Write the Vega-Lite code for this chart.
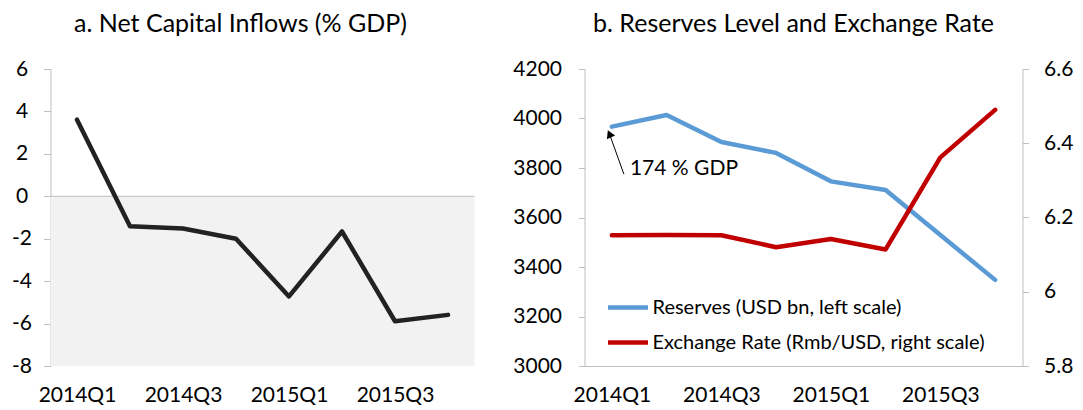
{
  "$schema": "https://vega.github.io/schema/vega-lite/v6.json",
  "padding": {"left": 11.5, "top": 11, "right": 5, "bottom": 0},
  "config": {
    "font": "Lato",
    "view": {"stroke": null},
    "axis": {"labelFont": "Lato", "labelFontSize": 21, "labelColor": "#000000", "domainColor": "#bfbfbf", "tickColor": "#bfbfbf", "grid": false},
    "title": {"font": "Lato", "fontSize": 25, "fontWeight": "normal", "color": "#000000", "frame": "group", "baseline": "alphabetic", "offset": 21.5},
    "concat": {"spacing": 37},
    "legend": {"labelFont": "Lato", "labelFontSize": 20, "labelColor": "#000000", "labelLimit": 0}
  },
  "datasets": {
    "capital": [
      {"q": "2014Q1", "t": 0, "v": 3.61},
      {"q": "2014Q2", "t": 1, "v": -1.41},
      {"q": "2014Q3", "t": 2, "v": -1.52},
      {"q": "2014Q4", "t": 3, "v": -2.0},
      {"q": "2015Q1", "t": 4, "v": -4.72},
      {"q": "2015Q2", "t": 5, "v": -1.66},
      {"q": "2015Q3", "t": 6, "v": -5.89},
      {"q": "2015Q4", "t": 7, "v": -5.59}
    ],
    "panelb": [
      {"q": "2014Q1", "t": 0, "series": "Reserves (USD bn, left scale)", "value": 3967},
      {"q": "2014Q2", "t": 1, "series": "Reserves (USD bn, left scale)", "value": 4014},
      {"q": "2014Q3", "t": 2, "series": "Reserves (USD bn, left scale)", "value": 3905},
      {"q": "2014Q4", "t": 3, "series": "Reserves (USD bn, left scale)", "value": 3861},
      {"q": "2015Q1", "t": 4, "series": "Reserves (USD bn, left scale)", "value": 3746},
      {"q": "2015Q2", "t": 5, "series": "Reserves (USD bn, left scale)", "value": 3711},
      {"q": "2015Q3", "t": 6, "series": "Reserves (USD bn, left scale)", "value": 3529},
      {"q": "2015Q4", "t": 7, "series": "Reserves (USD bn, left scale)", "value": 3348},
      {"q": "2014Q1", "t": 0, "series": "Exchange Rate (Rmb/USD, right scale)", "value": 6.152},
      {"q": "2014Q2", "t": 1, "series": "Exchange Rate (Rmb/USD, right scale)", "value": 6.153},
      {"q": "2014Q3", "t": 2, "series": "Exchange Rate (Rmb/USD, right scale)", "value": 6.152},
      {"q": "2014Q4", "t": 3, "series": "Exchange Rate (Rmb/USD, right scale)", "value": 6.12},
      {"q": "2015Q1", "t": 4, "series": "Exchange Rate (Rmb/USD, right scale)", "value": 6.142},
      {"q": "2015Q2", "t": 5, "series": "Exchange Rate (Rmb/USD, right scale)", "value": 6.114},
      {"q": "2015Q3", "t": 6, "series": "Exchange Rate (Rmb/USD, right scale)", "value": 6.362},
      {"q": "2015Q4", "t": 7, "series": "Exchange Rate (Rmb/USD, right scale)", "value": 6.49}
    ],
    "note": [
      {"label": "174 % GDP", "tx": 0.33, "ty": 3795, "ax": 0.22, "ay": 3775, "hx": -0.045, "hy": 3938}
    ]
  },
  "hconcat": [
    {
      "width": 424,
      "height": 297,
      "title": {"text": "a. Net Capital Inflows (% GDP)", "dx": -22},
      "layer": [
        {
          "data": {"values": [{"lo": -8, "hi": 0}]},
          "mark": {"type": "rect", "color": "#f2f2f2"},
          "encoding": {
            "y": {"field": "lo", "type": "quantitative", "title": null, "scale": {"domain": [-8, 6], "nice": false, "zero": false},
              "axis": {"values": [-8, -6, -4, -2, 0, 2, 4, 6], "labelExpr": "'' + datum.value", "labelAlign": "center", "tickSize": 7, "labelPadding": 22, "domain": true}},
            "y2": {"field": "hi"}
          }
        },
        {
          "data": {"values": [{"z": 0}]},
          "mark": {"type": "rule", "color": "#bfbfbf", "strokeWidth": 1},
          "encoding": {"y": {"field": "z", "type": "quantitative", "title": null}}
        },
        {
          "data": {"name": "capital"},
          "mark": {"type": "line", "color": "#222222", "strokeWidth": 4.5, "strokeJoin": "round", "strokeCap": "round"},
          "encoding": {
            "x": {"field": "t", "type": "quantitative", "title": null, "scale": {"domain": [-0.5, 7.5], "nice": false, "zero": false},
              "axis": {"values": [0, 2, 4, 6], "labelExpr": "['2014Q1','2014Q2','2014Q3','2014Q4','2015Q1','2015Q2','2015Q3','2015Q4'][datum.value]", "domain": false, "ticks": false, "tickSize": 0, "labelPadding": 18}},
            "y": {"field": "v", "type": "quantitative", "title": null}
          }
        }
      ]
    },
    {
      "width": 438,
      "height": 297,
      "title": {"text": "b. Reserves Level and Exchange Rate", "dx": -10},
      "layer": [
        {
          "data": {"name": "panelb"},
          "transform": [{"filter": "datum.series == 'Reserves (USD bn, left scale)'"}],
          "mark": {"type": "line", "strokeWidth": 4.5, "strokeJoin": "round", "strokeCap": "round"},
          "encoding": {
            "x": {"field": "t", "type": "quantitative", "title": null, "scale": {"domain": [-0.5, 7.5], "nice": false, "zero": false},
              "axis": {"values": [0, 2, 4, 6], "labelExpr": "['2014Q1','2014Q2','2014Q3','2014Q4','2015Q1','2015Q2','2015Q3','2015Q4'][datum.value]", "domain": true, "ticks": false, "tickSize": 0, "labelPadding": 18}},
            "y": {"field": "value", "type": "quantitative", "title": null, "scale": {"domain": [3000, 4200], "nice": false, "zero": false},
              "axis": {"values": [3000, 3200, 3400, 3600, 3800, 4000, 4200], "labelExpr": "'' + datum.value", "orient": "left", "tickSize": 6, "labelPadding": 17, "domain": true}},
            "color": {"field": "series", "type": "nominal", "title": null,
              "scale": {"domain": ["Reserves (USD bn, left scale)", "Exchange Rate (Rmb/USD, right scale)"], "range": ["#5b9bd5", "#c00000"]},
              "legend": {"orient": "none", "legendX": 555, "legendY": 216, "symbolType": "stroke", "symbolSize": 1600, "symbolStrokeWidth": 4.5, "labelOffset": 2, "rowPadding": 2, "padding": 0, "labelFontSize": 20, "labelLimit": 0}}
          }
        },
        {
          "data": {"name": "panelb"},
          "transform": [{"filter": "datum.series == 'Exchange Rate (Rmb/USD, right scale)'"}],
          "mark": {"type": "line", "strokeWidth": 4.5, "strokeJoin": "round", "strokeCap": "round"},
          "encoding": {
            "x": {"field": "t", "type": "quantitative", "title": null},
            "y": {"field": "value", "type": "quantitative", "title": null, "scale": {"domain": [5.8, 6.6], "nice": false, "zero": false},
              "axis": {"values": [5.8, 6, 6.2, 6.4, 6.6], "labelExpr": "'' + datum.value", "orient": "right", "tickSize": 6, "labelPadding": 15, "domain": true}},
            "color": {"field": "series", "type": "nominal", "title": null}
          }
        },
        {
          "data": {"name": "note"},
          "mark": {"type": "rule", "color": "#000000", "strokeWidth": 1},
          "encoding": {
            "x": {"field": "ax", "type": "quantitative", "title": null},
            "y": {"field": "ay", "type": "quantitative", "axis": null, "scale": {"domain": [3000, 4200], "nice": false, "zero": false}},
            "x2": {"field": "hx"},
            "y2": {"field": "hy"}
          }
        },
        {
          "data": {"name": "note"},
          "mark": {"type": "point", "shape": "triangle-up", "filled": true, "color": "#000000", "opacity": 1, "size": 80, "angle": -24},
          "encoding": {
            "x": {"field": "hx", "type": "quantitative", "title": null},
            "y": {"field": "hy", "type": "quantitative", "axis": null, "scale": {"domain": [3000, 4200], "nice": false, "zero": false}}
          }
        },
        {
          "data": {"name": "note"},
          "mark": {"type": "text", "align": "left", "baseline": "middle", "fontSize": 21, "color": "#000000"},
          "encoding": {
            "x": {"field": "tx", "type": "quantitative", "title": null},
            "y": {"field": "ty", "type": "quantitative", "axis": null, "scale": {"domain": [3000, 4200], "nice": false, "zero": false}},
            "text": {"field": "label"}
          }
        }
      ],
      "resolve": {"scale": {"y": "independent"}}
    }
  ]
}
